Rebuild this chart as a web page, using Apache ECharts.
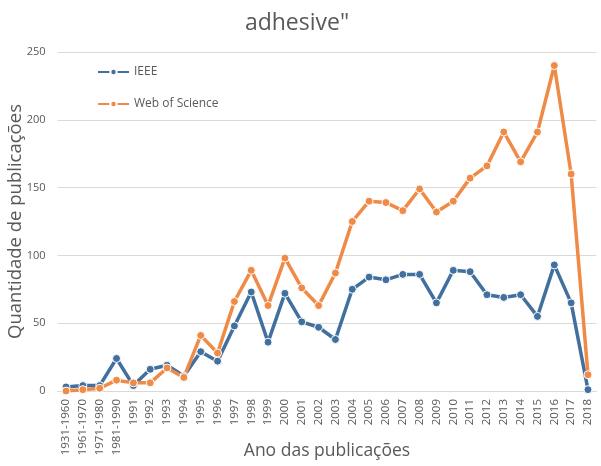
<!DOCTYPE html>
<html>
<head>
<meta charset="utf-8">
<script src="https://cdn.jsdelivr.net/npm/echarts@6/dist/echarts.min.js"></script>
<style>html,body{margin:0;padding:0;background:#fff}#c{width:601px;height:466px}</style>
</head>
<body>
<div id="c"></div>
<script>
var categories = ['1931-1960','1961-1970','1971-1980','1981-1990','1991','1992','1993','1994','1995','1996','1997','1998','1999','2000','2001','2002','2003','2004','2005','2006','2007','2008','2009','2010','2011','2012','2013','2014','2015','2016','2017','2018'];
var ieee = [3,4,4,24,4,16,19,11,29,22,48,73,36,72,51,47,38,75,84,82,86,86,65,89,88,71,69,71,55,93,65,1];
var wos = [0,1,2,8,6,6,17,10,41,28,66,89,63,98,76,63,87,125,140,139,133,149,132,140,157,166,191,169,191,240,160,12];
var yTicks = {min:0, max:250, interval:50};
var titleText = 'adhesive"';
var FONT = 'Open Sans';
var chart = echarts.init(document.getElementById('c'), null, {renderer:'canvas'});
function ser(name, data, color){
  return {name:name, type:'line', data:data, symbol:'circle', symbolSize:8,
    lineStyle:{color:color, width:3.5}, itemStyle:{color:color, borderColor:'#fff', borderWidth:1},
    emphasis:{disabled:true}, animation:false};
}
chart.setOption({
  animation:false,
  textStyle:{fontFamily:FONT},
  graphic:[{type:'text', x:297, y:12, style:{text:titleText, fontSize:23, fill:'#595959', fontFamily:FONT, align:'center', verticalAlign:'top'}}],
  legend:{orient:'vertical', left:92, top:61, itemWidth:31, itemHeight:8, itemGap:20,
    textStyle:{color:'#595959', fontSize:12, fontFamily:FONT},
    data:['IEEE','Web of Science']},
  grid:{left:57.6, right:4.6, top:52, bottom:75, containLabel:false, outerBoundsMode:'none'},
  xAxis:{type:'category', data:categories, boundaryGap:true,
    name:'Ano das publicações', nameLocation:'middle', nameGap:51, nameMoveOverlap:false,
    nameTextStyle:{fontSize:17.5, color:'#595959', fontFamily:FONT},
    axisLine:{lineStyle:{color:'#d9d9d9', width:1}}, axisTick:{show:false},
    axisLabel:{rotate:90, interval:0, fontSize:11.5, color:'#595959', margin:8, fontFamily:FONT}},
  yAxis:{type:'value', min:yTicks.min, max:yTicks.max, interval:yTicks.interval,
    name:'Quantidade de publicações', nameLocation:'middle', nameGap:32, nameMoveOverlap:false,
    nameTextStyle:{fontSize:18.5, color:'#595959', fontFamily:FONT},
    axisLine:{show:false}, axisTick:{show:false},
    axisLabel:{fontSize:11, color:'#595959', margin:12, fontFamily:FONT},
    splitLine:{lineStyle:{color:'#d9d9d9', width:1}}},
  series:[ser('IEEE', ieee, '#41709f'), ser('Web of Science', wos, '#ef8a47')]
});
</script>
</body>
</html>
